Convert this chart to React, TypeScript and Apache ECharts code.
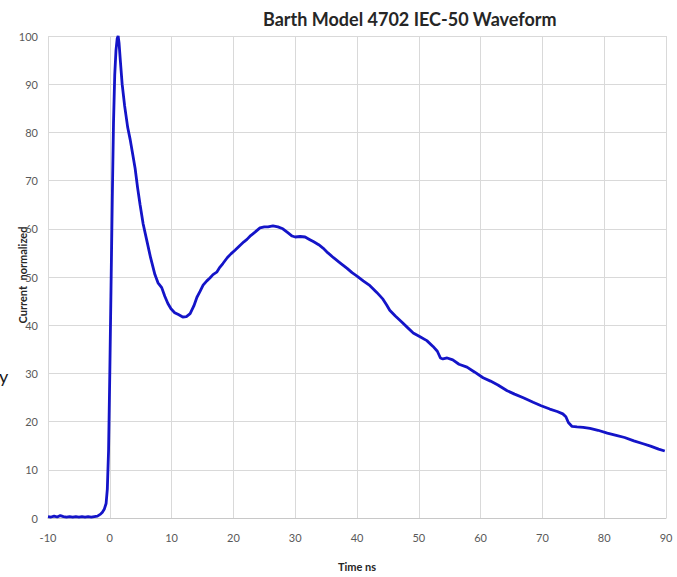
import React, { useEffect, useRef } from "react";
import * as echarts from "echarts";

const timeNs: number[] = [
  -10, -9.5, -9, -8.5, -8, -7.5, -7, -6.5, -6, -5.5, -5, -4.5, -4, -3.5, -3, -2.5, -2, -1.5, -1.2, -0.9,
  -0.6, -0.4, -0.2, 0, 0.2, 0.4, 0.6, 0.8, 1.0, 1.2, 1.35, 1.5, 1.7, 2.0, 2.4, 2.9, 3.3, 3.7, 4.1, 4.5,
  4.9, 5.4, 6.0, 6.6, 7.3, 7.8, 8.4, 8.9, 9.4, 9.9, 10.5, 11.1, 11.8, 12.4, 13.0, 13.6, 14.1, 14.6, 15.1, 15.7,
  16.2, 16.7, 17.3, 17.8, 18.3, 19.0, 19.6, 20.3, 21.1, 21.7, 22.2, 22.8, 23.5, 24.3, 25.0, 25.6, 26.4, 27.2, 28.0, 28.8,
  29.5, 30.0, 30.8, 31.6, 32.3, 33.0, 33.8, 34.5, 35.3, 36.2, 37.3, 38.4, 39.2, 40.0, 41.0, 42.1, 43.2, 44.2, 44.8, 45.3,
  46.2, 47.2, 48.1, 49.1, 50.2, 51.3, 52.3, 53.0, 53.5, 53.9, 54.6, 55.5, 56.5, 57.8, 59.0, 60.4, 61.6, 62.8, 64.3, 65.5,
  67.0, 68.5, 69.8, 71.2, 72.4, 73.3, 73.8, 74.2, 74.8, 75.6, 76.6, 77.7, 79.0, 80.5, 82.1, 83.3, 84.8, 86.3, 87.5, 88.8,
  89.8,
];

const currentNormalized: number[] = [
  0.3, 0.2, 0.4, 0.2, 0.5, 0.3, 0.2, 0.3, 0.2, 0.3, 0.2, 0.3, 0.2, 0.3, 0.2, 0.3, 0.4, 0.8, 1.2, 1.8,
  3.0, 6, 14, 30, 48, 66, 82, 92, 97, 99.5, 100, 98.5, 95, 90, 85.5, 81, 78.5, 75.5, 72.5, 68.5,
  65, 61, 57.5, 54, 50.5, 48.8, 47.8, 46, 44.5, 43.4, 42.6, 42.2, 41.7, 41.8, 42.4, 44, 45.8, 47, 48.3, 49.2,
  49.8, 50.5, 51, 52, 52.8, 54, 54.8, 55.6, 56.6, 57.3, 57.8, 58.6, 59.3, 60.2, 60.4, 60.4, 60.6, 60.4, 60, 59.2,
  58.5, 58.3, 58.4, 58.3, 57.8, 57.3, 56.7, 56, 55, 54, 52.9, 51.8, 50.9, 50.2, 49.2, 48.2, 46.8, 45.4, 44.2, 43.1,
  41.9, 40.7, 39.6, 38.4, 37.6, 36.8, 35.6, 34.6, 33.2, 33.0, 33.2, 32.8, 31.9, 31.3, 30.3, 29.1, 28.4, 27.6, 26.4, 25.7,
  24.9, 24.0, 23.3, 22.6, 22.1, 21.6, 21.0, 19.8, 19.0, 18.9, 18.8, 18.6, 18.2, 17.6, 17.1, 16.7, 16.0, 15.4, 14.9, 14.3,
  13.9,
];

const titleText = "Barth Model 4702 IEC-50 Waveform";
const xAxisTitle = "Time ns";
const yAxisTitle = "Current  normalized";

const FONT = "Lato, 'Open Sans', sans-serif";

export default function App() {
  const ref = useRef<HTMLDivElement>(null);

  useEffect(() => {
    if (!ref.current) return;
    const chart = echarts.init(ref.current, null, { renderer: "svg" });
    const data = timeNs.map((t, i) => [t, currentNormalized[i]]);
    chart.setOption({
      animation: false,
      backgroundColor: "#ffffff",
      textStyle: { fontFamily: FONT },
      title: {
        text: titleText,
        left: 258,
        top: 5,
        textStyle: { fontFamily: FONT, fontSize: 18, fontWeight: "bold", color: "#262626" },
      },
      grid: { left: 48, right: 11, top: 36, bottom: 54, containLabel: false },
      xAxis: {
        type: "value",
        min: -10,
        max: 90,
        interval: 10,
        name: xAxisTitle,
        nameLocation: "middle",
        nameGap: 43,
        nameTextStyle: { fontFamily: FONT, fontSize: 11, fontWeight: "bold", color: "#262626" },
        axisLine: { show: true, lineStyle: { color: "#c8c8c8", width: 1 } },
        axisTick: { show: false },
        axisLabel: { color: "#595959", fontSize: 11, margin: 14, fontFamily: FONT },
        splitLine: { show: true, lineStyle: { color: "#d9d9d9", width: 1 } },
      },
      yAxis: {
        type: "value",
        min: 0,
        max: 100,
        interval: 10,
        axisLine: { show: false },
        axisTick: { show: false },
        axisLabel: { color: "#595959", fontSize: 11, margin: 10, fontFamily: FONT },
        splitLine: { show: true, lineStyle: { color: "#d9d9d9", width: 1 } },
      },
      graphic: [
        {
          type: "text",
          x: 22,
          y: 275,
          rotation: Math.PI / 2,
          style: {
            text: yAxisTitle,
            fontFamily: FONT,
            fontSize: 11,
            fontWeight: "bold",
            fill: "#262626",
            align: "center",
            verticalAlign: "middle",
          },
        },
        {
          type: "text",
          x: -1,
          y: 376,
          style: {
            text: "y",
            fontFamily: FONT,
            fontSize: 18,
            fill: "#1a1a1a",
            align: "left",
            verticalAlign: "middle",
          },
        },
      ],
      series: [
        {
          type: "line",
          data,
          showSymbol: false,
          smooth: false,
          lineStyle: { color: "#1414c8", width: 2.8 },
          itemStyle: { color: "#1414c8" },
        },
      ],
    });
    return () => chart.dispose();
  }, []);

  return (
    <div
      ref={ref}
      style={{ position: "absolute", left: 0, top: 0, width: 677, height: 577 }}
    />
  );
}
